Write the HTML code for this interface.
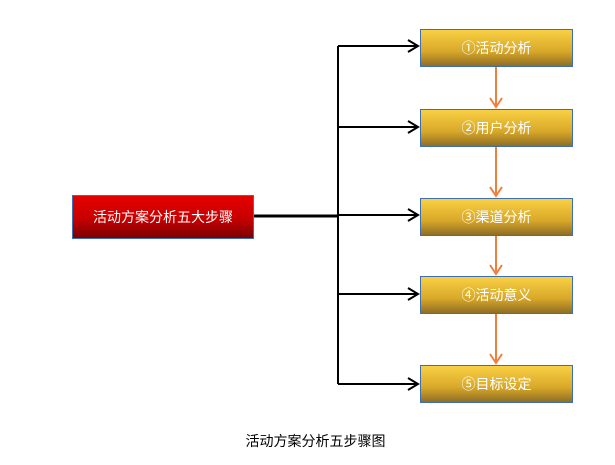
<!DOCTYPE html>
<html><head><meta charset="utf-8"><style>
body{margin:0;width:615px;height:465px;background:#fff;position:relative;overflow:hidden;font-family:"Liberation Sans","Noto Sans CJK SC",sans-serif}
.b{position:absolute;box-sizing:border-box;border:1px solid #3e6fb0;color:#fff;font-size:14px;display:flex;align-items:center;justify-content:center}
.y{left:420px;width:153px;height:38px;background:linear-gradient(#f9d044,#d8a829 60%,#8f6e25)}
.r{left:72px;top:195px;width:182px;height:44px;background:linear-gradient(#e60000,#c60000 55%,#7a0000)}
.cap{position:absolute;top:431px;left:8px;width:615px;text-align:center;font-size:14px;color:#000}
</style></head><body>
<svg width="615" height="465" style="position:absolute;left:0;top:0">
<g stroke="#000" stroke-width="2" fill="none">
<line x1="254" y1="216" x2="338" y2="216" stroke-width="3"/>
<line x1="338" y1="46" x2="338" y2="384"/>
<line x1="338" y1="46" x2="418" y2="46"/>
<line x1="338" y1="127" x2="418" y2="127"/>
<line x1="338" y1="215" x2="418" y2="215"/>
<line x1="338" y1="294" x2="418" y2="294"/>
<line x1="338" y1="384" x2="418" y2="384"/>
<polyline points="408,40 418,46 408,52"/>
<polyline points="408,121 418,127 408,133"/>
<polyline points="408,209 418,215 408,221"/>
<polyline points="408,288 418,294 408,300"/>
<polyline points="408,378 418,384 408,390"/>
</g>
<g stroke="#ef7f3a" stroke-width="2" fill="none">
<line x1="496" y1="67" x2="496" y2="107"/><polyline points="490,98 496,107 502,98"/>
<line x1="496" y1="147" x2="496" y2="196"/><polyline points="490,187 496,196 502,187"/>
<line x1="496" y1="236" x2="496" y2="274"/><polyline points="490,265 496,274 502,265"/>
<line x1="496" y1="314" x2="496" y2="363"/><polyline points="490,354 496,363 502,354"/>
</g>
</svg>
<div class="b r">活动方案分析五大步骤</div>
<div class="b y" style="top:29px">①活动分析</div>
<div class="b y" style="top:109px">②用户分析</div>
<div class="b y" style="top:198px">③渠道分析</div>
<div class="b y" style="top:276px">④活动意义</div>
<div class="b y" style="top:365px">⑤目标设定</div>
<div class="cap">活动方案分析五步骤图</div>
</body></html>
